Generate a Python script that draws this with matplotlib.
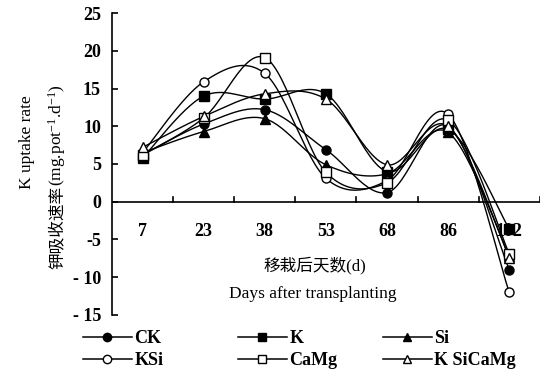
import numpy as np
import matplotlib.pyplot as plt
from matplotlib.lines import Line2D

plt.rcParams['font.family'] = ['Liberation Serif', 'Noto Sans CJK SC']
plt.rcParams['mathtext.fontset'] = 'custom'
plt.rcParams['mathtext.rm'] = 'Liberation Serif'
plt.rcParams['mathtext.it'] = 'Liberation Serif:italic'

# Values
days = ['7', '23', '38', '53', '68', '86', '102']
CK = [6.2, 10.3, 12.2, 6.9, 1.2, 10.0, -9.0]
K = [5.8, 14.0, 13.6, 14.3, 4.0, 9.6, -3.6]
Si = [6.5, 9.3, 11.0, 4.9, 3.7, 9.2, -7.2]
KSi = [6.5, 15.9, 17.0, 3.1, 2.8, 11.6, -12.0]
CaMg = [6.2, 11.1, 19.1, 3.9, 2.5, 10.8, -6.9]
KSiCaMg = [7.2, 11.3, 14.3, 13.6, 4.9, 10.0, -7.4]


def smooth(y, n=30):
    # Excel-like smoothed line (Bezier through the points)
    y = np.asarray(y, float)
    x = np.arange(len(y), dtype=float)
    px = np.concatenate([[x[0]], x, [x[-1]]])
    py = np.concatenate([[y[0]], y, [y[-1]]])
    xs, ys = [], []
    t = np.linspace(0, 1, n)
    for i in range(len(y) - 1):
        p0 = np.array([px[i + 1], py[i + 1]])
        p3 = np.array([px[i + 2], py[i + 2]])
        p1 = p0 + (np.array([px[i + 2], py[i + 2]]) - np.array([px[i], py[i]])) / 6
        p2 = p3 - (np.array([px[i + 3], py[i + 3]]) - np.array([px[i + 1], py[i + 1]])) / 6
        b = ((1 - t) ** 3)[:, None] * p0 + (3 * (1 - t) ** 2 * t)[:, None] * p1 \
            + (3 * (1 - t) * t ** 2)[:, None] * p2 + (t ** 3)[:, None] * p3
        xs.extend(b[:, 0])
        ys.extend(b[:, 1])
    return xs, ys


fig = plt.figure(figsize=(5.47, 3.74), dpi=100)
ax = fig.add_axes([0.2048, 0.158, 0.782, 0.807])

series = [
    ('CK', CK, 'o', 'k'),
    ('K', K, 's', 'k'),
    ('Si', Si, '^', 'k'),
    ('KSi', KSi, 'o', 'white'),
    ('CaMg', CaMg, 's', 'white'),
    ('K SiCaMg', KSiCaMg, '^', 'white'),
]
x = np.arange(len(days))
handles = {}
for name, vals, m, fc in series:
    sx, sy = smooth(vals)
    ax.plot(sx, sy, color='k', lw=1.0, zorder=2)
    ax.plot(x, vals, ls='none', marker=m, ms=6.5, mfc=fc, mec='k', mew=1.0, zorder=3)
    handles[name] = Line2D([], [], color='k', lw=1.1, marker=m, ms=6, mfc=fc, mec='k', mew=1.0)

ax.set_xlim(-0.5, 6.5)
ax.set_ylim(-15, 25)
yt = list(range(-15, 30, 5))
ax.set_yticks(yt)
ax.set_yticklabels(['- ' + str(-v) if v < -5 else str(v) for v in yt])
for s in ['top', 'right', 'bottom']:
    ax.spines[s].set_visible(False)
ax.spines['left'].set_linewidth(1.2)
ax.axhline(0, color='k', lw=1.2, zorder=1)
ax.tick_params(axis='y', direction='in', length=4, width=1.2, labelsize=13, pad=8)
ax.set_xticks([])
# category ticks between categories on the zero line
for b in np.arange(0.5, 7.0, 1.0):
    ax.plot([b, b], [0, 0.6], color='k', lw=1.2)
for i, d in enumerate(days):
    ax.text(i, -3.9, d, ha='center', va='center', fontsize=13, fontweight='bold')
for lab in ax.get_yticklabels():
    lab.set_fontweight('bold')

W, H = 547, 374
fig.text(0.05, 0.62, 'K uptake rate', rotation=90, ha='center', va='center', fontsize=12.5)
# y label second line: Chinese part then units, joined at one anchor
ax_y = 1 - 186 / H
fig.text(57 / W, ax_y, '钾吸收速率', rotation=90, rotation_mode='anchor',
         ha='right', va='center', fontsize=12, family='Noto Sans CJK SC')
fig.text(57 / W, ax_y, '(mg.pot$^{\\mathdefault{-1}}$.d$^{\\mathdefault{-1}}$)', rotation=90,
         rotation_mode='anchor', ha='left', va='center', fontsize=12.5)
fig.text(0.575, 0.29, '移栽后天数(d)', ha='center', va='center', fontsize=12)
fig.text(0.572, 0.215, 'Days after transplanting', ha='center', va='center', fontsize=12.5)

# legend: one small legend per column
columns = [(['CK', 'KSi'], 83), (['K', 'CaMg'], 238), (['Si', 'K SiCaMg'], 383)]
for names, x0 in columns:
    leg = fig.legend([handles[k] for k in names], names, loc='upper left',
                     bbox_to_anchor=(x0 / W, 1 - 330 / H), frameon=False,
                     borderpad=0, borderaxespad=0, handlelength=2.7, handletextpad=0.15,
                     labelspacing=0.3, prop={'weight': 'bold', 'size': 13})

fig.savefig('out.png', dpi=100)
